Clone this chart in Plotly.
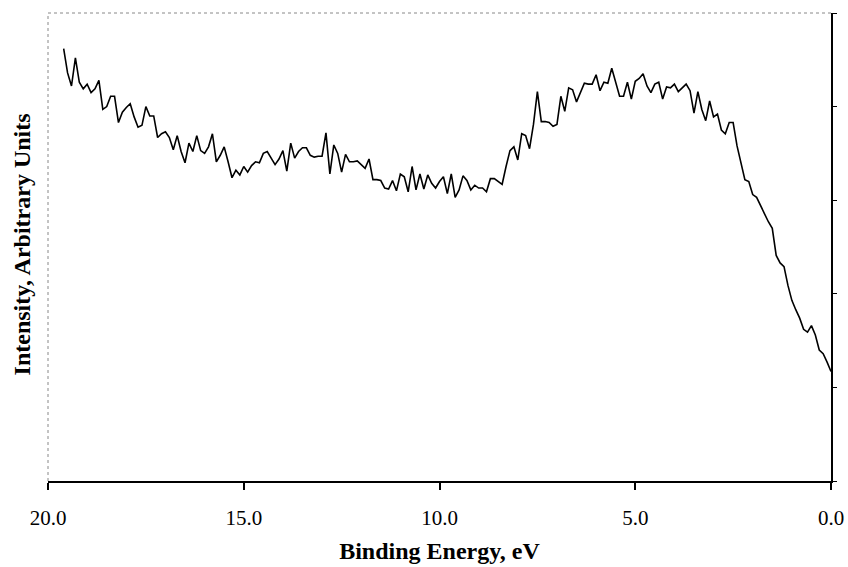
import plotly.graph_objects as go

# Binding energy (eV), 0.1 eV steps
binding_energy = [
    19.6, 19.5, 19.4, 19.3, 19.2, 19.1, 19.0, 18.9, 18.8, 18.7,
    18.6, 18.5, 18.4, 18.3, 18.2, 18.1, 18.0, 17.9, 17.8, 17.7,
    17.6, 17.5, 17.4, 17.3, 17.2, 17.1, 17.0, 16.9, 16.8, 16.7,
    16.6, 16.5, 16.4, 16.3, 16.2, 16.1, 16.0, 15.9, 15.8, 15.7,
    15.6, 15.5, 15.4, 15.3, 15.2, 15.1, 15.0, 14.9, 14.8, 14.7,
    14.6, 14.5, 14.4, 14.3, 14.2, 14.1, 14.0, 13.9, 13.8, 13.7,
    13.6, 13.5, 13.4, 13.3, 13.2, 13.1, 13.0, 12.9, 12.8, 12.7,
    12.6, 12.5, 12.4, 12.3, 12.2, 12.1, 12.0, 11.9, 11.8, 11.7,
    11.6, 11.5, 11.4, 11.3, 11.2, 11.1, 11.0, 10.9, 10.8, 10.7,
    10.6, 10.5, 10.4, 10.3, 10.2, 10.1, 10.0, 9.9, 9.8, 9.7,
    9.6, 9.5, 9.4, 9.3, 9.2, 9.1, 9.0, 8.9, 8.8, 8.7,
    8.6, 8.5, 8.4, 8.3, 8.2, 8.1, 8.0, 7.9, 7.8, 7.7,
    7.6, 7.5, 7.4, 7.3, 7.2, 7.1, 7.0, 6.9, 6.8, 6.7,
    6.6, 6.5, 6.4, 6.3, 6.2, 6.1, 6.0, 5.9, 5.8, 5.7,
    5.6, 5.5, 5.4, 5.3, 5.2, 5.1, 5.0, 4.9, 4.8, 4.7,
    4.6, 4.5, 4.4, 4.3, 4.2, 4.1, 4.0, 3.9, 3.8, 3.7,
    3.6, 3.5, 3.4, 3.3, 3.2, 3.1, 3.0, 2.9, 2.8, 2.7,
    2.6, 2.5, 2.4, 2.3, 2.2, 2.1, 2.0, 1.9, 1.8, 1.7,
    1.6, 1.5, 1.4, 1.3, 1.2, 1.1, 1.0, 0.9, 0.8, 0.7,
    0.6, 0.5, 0.4, 0.3, 0.2, 0.1, 0.0,
]

# Intensity (arbitrary units)
intensity = [
    4.62, 4.36, 4.22, 4.52, 4.26, 4.19, 4.24, 4.15, 4.19, 4.28,
    3.97, 4.00, 4.11, 4.11, 3.83, 3.94, 3.99, 4.03, 3.89, 3.78,
    3.80, 4.00, 3.90, 3.90, 3.67, 3.71, 3.73, 3.67, 3.54, 3.69,
    3.52, 3.40,
    3.61, 3.52, 3.69, 3.53, 3.50, 3.57, 3.71, 3.41, 3.48, 3.57,
    3.41, 3.24, 3.32, 3.27, 3.36, 3.30, 3.37, 3.41, 3.40, 3.50,
    3.52, 3.45, 3.38, 3.44, 3.53, 3.31, 3.61, 3.45, 3.52, 3.56,
    3.56, 3.48,
    3.46, 3.47, 3.47, 3.72, 3.28, 3.59, 3.50, 3.30, 3.49, 3.41,
    3.41, 3.42, 3.38, 3.34, 3.44, 3.22, 3.22, 3.21, 3.13, 3.12,
    3.21, 3.10, 3.28, 3.25, 3.09, 3.36, 3.11, 3.28, 3.12, 3.27,
    3.18, 3.13, 3.20, 3.25,
    3.07, 3.28, 3.03, 3.11, 3.26, 3.21, 3.11, 3.16, 3.13, 3.13,
    3.09, 3.23, 3.23, 3.20, 3.17, 3.36, 3.53, 3.57, 3.43, 3.71,
    3.69, 3.55, 3.81, 4.16, 3.84, 3.84, 3.83, 3.79, 3.81, 4.11,
    3.95, 4.20, 4.18, 4.05,
    4.16, 4.25, 4.24, 4.24, 4.34, 4.17, 4.26, 4.25, 4.41, 4.27,
    4.11, 4.11, 4.26, 4.08, 4.27, 4.30, 4.35, 4.22, 4.15, 4.24,
    4.26, 4.08, 4.21, 4.20, 4.24, 4.16, 4.20, 4.24, 4.17, 3.93,
    4.16, 3.97, 3.85, 4.06, 3.89, 3.92, 3.75, 3.71, 3.83, 3.83,
    3.58, 3.40, 3.22, 3.20, 3.06, 3.03, 2.94, 2.86, 2.77, 2.70,
    2.41, 2.33, 2.29, 2.09, 1.93, 1.83, 1.74, 1.62, 1.59, 1.66,
    1.56, 1.40, 1.36, 1.27, 1.17,
]

x_ticks = [20, 15, 10, 5, 0]
x_tick_labels = ["20.0", "15.0", "10.0", "5.0", "0.0"]
y_ticks = [0, 1, 2, 3, 4, 5]

font_family = "Liberation Serif, Times New Roman, serif"

fig = go.Figure()
fig.add_trace(go.Scatter(
    x=binding_energy, y=intensity, mode="lines",
    line=dict(color="black", width=1.6),
    hoverinfo="skip", showlegend=False,
))

fig.update_layout(
    width=848, height=567,
    margin=dict(l=48, r=17, t=13, b=86, autoexpand=False),
    paper_bgcolor="white", plot_bgcolor="white",
    font=dict(family=font_family, color="black", size=21),
    xaxis=dict(
        range=[20, 0], tickvals=x_ticks, ticktext=x_tick_labels,
        ticks="outside", ticklen=7, tickwidth=1.5, tickcolor="black",
        ticklabelstandoff=10,
        showline=True, linecolor="black", linewidth=1.5,
        showgrid=False, zeroline=False,
        tickfont=dict(size=21, family=font_family),
        title=dict(text="<b>Binding Energy, eV</b>", standoff=13,
                   font=dict(size=24, family=font_family)),
    ),
    yaxis=dict(
        range=[0, 5], tickvals=y_ticks, side="right",
        ticks="outside", ticklen=4, tickwidth=1.2, tickcolor="black",
        showticklabels=False,
        showline=True, linecolor="black", linewidth=1.5,
        showgrid=False, zeroline=False,
    ),
    shapes=[
        dict(type="line", xref="x domain", yref="y domain", x0=0, x1=1, y0=1, y1=1,
             line=dict(color="#888888", width=1, dash="dot")),
        dict(type="line", xref="x domain", yref="y domain", x0=0, x1=0, y0=0, y1=1,
             line=dict(color="#888888", width=1, dash="dot")),
    ],
    annotations=[
        dict(text="<b>Intensity, Arbitrary Units</b>", textangle=-90,
             xref="paper", yref="y domain", x=-0.0335, y=0.505,
             xanchor="center", yanchor="middle", showarrow=False,
             font=dict(size=24, family=font_family)),
    ],
)

fig.write_html("out.html", config={"displayModeBar": False},
               post_script="document.body.style.margin='0';")
